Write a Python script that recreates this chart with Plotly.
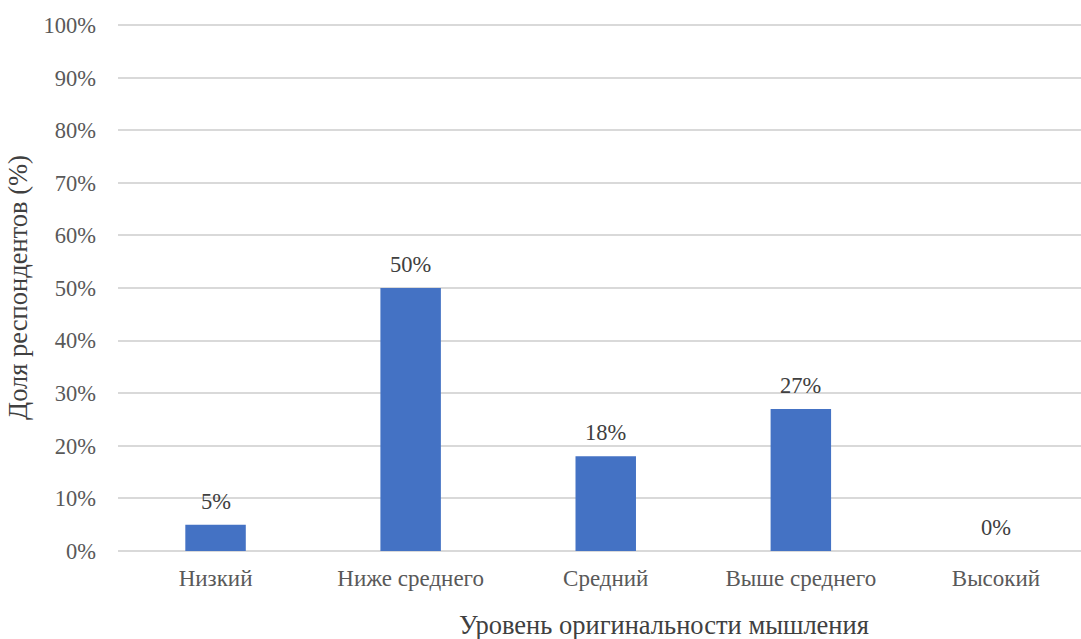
import plotly.graph_objects as go

categories = ["Низкий", "Ниже среднего", "Средний", "Выше среднего", "Высокий"]
shares = [5, 50, 18, 27, 0]
y_ticks = list(range(0, 101, 10))
y_tick_labels = [f"{v}%" for v in y_ticks]

FONT = "Times New Roman, Liberation Serif, DejaVu Serif, serif"
GREY = "#595959"
DARK = "#404040"

fig = go.Figure()
fig.add_trace(go.Bar(
    x=list(range(len(categories))),
    y=shares,
    marker=dict(color="#4472C4", line=dict(width=0)),
    width=0.31,
    hoverinfo="skip",
))

# value labels above each bar
for i, v in enumerate(shares):
    fig.add_annotation(
        x=i, y=v, xref="x", yref="y",
        text=f"{v}%", showarrow=False,
        yanchor="bottom", yshift=9,
        font=dict(family=FONT, size=22.5, color=DARK),
    )

# x-axis title
fig.add_annotation(
    x=0.567, y=-0.1404, xref="paper", yref="paper",
    text="Уровень оригинальности мышления", showarrow=False,
    xanchor="center", yanchor="middle",
    font=dict(family=FONT, size=26.5, color=DARK),
)

fig.update_layout(
    width=1081, height=639,
    margin=dict(l=118, r=0, t=24, b=88),
    paper_bgcolor="white", plot_bgcolor="white",
    showlegend=False,
    font=dict(family=FONT, size=22, color=GREY),
    xaxis=dict(
        tickmode="array",
        tickvals=list(range(len(categories))),
        ticktext=categories,
        range=[-0.5, 4.436],
        showgrid=False, zeroline=False, showline=False,
        ticks="", ticklabelstandoff=11,
        tickfont=dict(family=FONT, size=23, color=GREY),
    ),
    yaxis=dict(
        range=[0, 100.2],
        tickmode="array",
        tickvals=y_ticks,
        ticktext=y_tick_labels,
        showgrid=True, gridcolor="#d9d9d9", gridwidth=1.5,
        zeroline=True, zerolinecolor="#d9d9d9", zerolinewidth=1.5,
        showline=False, ticks="", ticklabelstandoff=21,
        tickfont=dict(family=FONT, size=22.5, color=GREY),
        title=dict(text="Доля респондентов (%)", standoff=8,
                   font=dict(family=FONT, size=26.5, color=DARK)),
    ),
)

fig.write_html("out.html")
